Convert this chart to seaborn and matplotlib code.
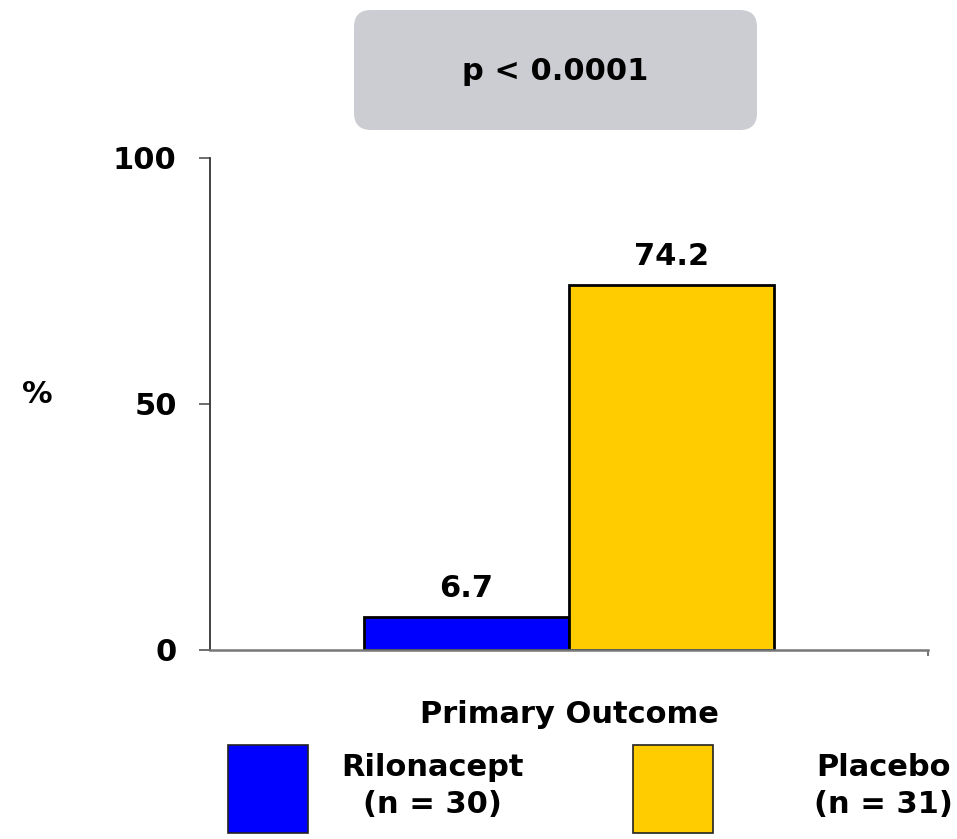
import matplotlib
matplotlib.use("Agg")
import matplotlib.pyplot as plt
from matplotlib.patches import FancyBboxPatch
import seaborn as sns
import pandas as pd

# Trial results: proportion of patients reaching the primary outcome
outcome = ["Primary Outcome"]
groups = ["Rilonacept", "Placebo"]
group_n = [30, 31]
percent = [6.7, 74.2]
bar_colors = ["#0000FF", "#FFCC00"]
y_ticks = [0, 50, 100]
p_text = "p < 0.0001"

sns.set_theme(style="white")
plt.rcParams["font.family"] = ["DejaVu Sans"]
plt.rcParams["font.weight"] = "bold"
plt.rcParams["text.color"] = "black"
plt.rcParams["axes.labelcolor"] = "black"

FS = 22

labels = [f"{g}\n(n = {n})" for g, n in zip(groups, group_n)]
df = pd.DataFrame({
    "outcome": outcome * len(groups),
    "group": labels,
    "pct": percent,
})

fig = plt.figure(figsize=(9.57, 8.39), dpi=100)
ax = fig.add_axes([0.2194, 0.2253, 0.7503, 0.5864])

sns.barplot(data=df, x="outcome", y="pct", hue="group", hue_order=labels,
            palette=bar_colors, width=0.571, saturation=1, edgecolor="black",
            linewidth=2, legend=False, ax=ax, errorbar=None)

ax.set_xlim(-0.5, 0.5)
ax.set_ylim(0, 100)
ax.set_yticks(y_ticks)
ax.set_yticklabels([str(t) for t in y_ticks], fontsize=FS, fontweight="bold")
ax.set_xlabel("")
ax.set_ylabel("%", rotation=0, fontsize=FS, fontweight="bold")
ax.yaxis.set_label_coords(-0.24, 0.49)

for s in ["top", "right"]:
    ax.spines[s].set_visible(False)
ax.spines["left"].set_color("#333333")
ax.spines["left"].set_linewidth(1.3)
ax.spines["bottom"].set_color("#777777")
ax.spines["bottom"].set_linewidth(1.8)

ax.tick_params(axis="y", direction="out", length=8, width=1.2,
               color="#555555", labelcolor="black", pad=16, left=True)
ax.tick_params(axis="x", length=0, pad=36, labelsize=FS, labelcolor="black")
for t in ax.get_xticklabels():
    t.set_fontweight("bold")
ax.set_xticks([0.5], minor=True)
ax.tick_params(axis="x", which="minor", direction="out", length=4,
               width=1.5, color="#777777", bottom=True)

for cont in ax.containers:
    ax.bar_label(cont, fmt="%.1f", padding=10, fontsize=FS, fontweight="bold",
                 color="black")

# Significance box above the bars
box = FancyBboxPatch((3.54, 7.09), 4.03, 1.2,
                     boxstyle="round,pad=0,rounding_size=0.17",
                     transform=fig.dpi_scale_trans, facecolor="#CCCDD2",
                     edgecolor="none")
fig.add_artist(box)
fig.text(5.555 / 9.57, 1 - 71 / 839, p_text, ha="center", va="center",
         fontsize=FS, fontweight="bold", color="black")

# One legend entry per group, each with its own spacing
legend_specs = [(228, 1.08), (633, 3.3)]
for cont, lab, (x0, pad) in zip(ax.containers, labels, legend_specs):
    leg = fig.legend(handles=[cont], labels=[lab], loc="upper left",
                     bbox_to_anchor=(x0 / 957, 1 - 745 / 839),
                     frameon=False, handlelength=2.62, handleheight=4.05,
                     handletextpad=pad, borderpad=0, borderaxespad=0,
                     prop={"weight": "bold", "size": FS})
    for t in leg.get_texts():
        t.set_multialignment("center")
        t.set_linespacing(1.35)
    for h in leg.legend_handles:
        h.set_linewidth(1.2)
        h.set_edgecolor("#222222")

fig.savefig("out.png", dpi=100, facecolor="white")
